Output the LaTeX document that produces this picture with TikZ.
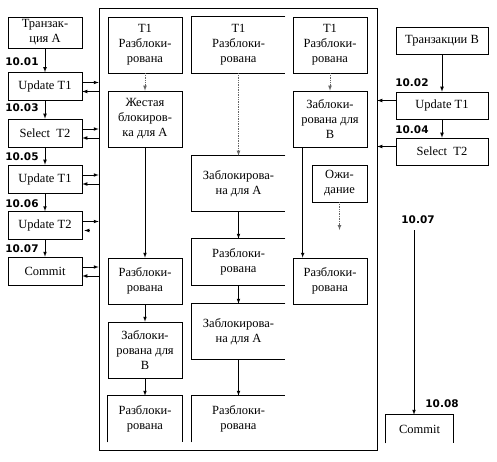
\documentclass[tikz,border=0pt]{standalone}
\usepackage{fontspec}
\setmainfont{Liberation Serif}
\newfontfamily\boxfont{Liberation Serif}
\newfontfamily\stampfont{DejaVu Sans}
\usetikzlibrary{positioning}

\tikzset{
  box/.style={draw, minimum width=74pt, minimum height=28pt, inner sep=1pt, align=center, font=\boxfont\fontsize{12.5}{15}\selectfont},
  bare/.style={box, draw=none},
  stamp/.style={inner sep=0pt, font=\stampfont\bfseries\fontsize{10.5}{11}\selectfont},
  flow/.style={->, >=latex},
  wait/.style={->, >=latex, densely dotted, black!60},
}

\begin{document}
\begin{tikzpicture}[x=1pt, y=-1pt, line width=0.7pt]
\useasboundingbox (0,0) rectangle (497,462);

% outer frame
\node[draw, minimum width=278pt, minimum height=442pt, inner sep=0pt] (frame) at (238,229) {};

% transaction A
\node[box, minimum height=31pt] (tA) at (45,32.5) {Транзак-\\ция A};
\node[box] (uA1) at (45,86.5) {Update T1};
\node[box] (sA2) at (45,133) {Select\ \ T2};
\node[box] (uA3) at (45,179) {Update T1};
\node[box] (uA4) at (45,225.5) {Update T2};
\node[box] (cA) at (45,271) {Commit};
\node[stamp, anchor=west] (s01) at (5,62) {10.01};
\node[stamp, anchor=west] (s03) at (5,108) {10.03};
\node[stamp, anchor=west] (s05) at (5,157) {10.05};
\node[stamp, anchor=west] (s06) at (5,204) {10.06};
\node[stamp, anchor=west] (s07a) at (5,249) {10.07};
\draw[flow] (tA) -- (uA1);
\draw[flow] (uA1) -- (sA2);
\draw[flow] (sA2) -- (uA3);
\draw[flow] (uA3) -- (uA4);
\draw[flow] (uA4) -- (cA);
\foreach \b in {uA1,sA2,uA3,uA4,cA}
  \draw[flow] ([yshift=4pt]\b.east) -- ([yshift=4pt]\b.east -| frame.west);
\foreach \b in {uA1,sA2,uA3,cA}
  \draw[flow] ([yshift=-5pt]\b.east -| frame.west) -- ([yshift=-5pt]\b.east);
\draw[flow] ([yshift=-5pt,xshift=7pt]uA4.east) -- ([yshift=-5pt,xshift=2pt]uA4.east);

% column 1
\node[box, minimum height=56pt] (c1a) at (145,45) {T1\\Разблоки-\\рована};
\node[box, minimum height=56pt] (c1b) at (145,119) {Жестая\\блокиров-\\ка для A};
\node[box, minimum height=46pt] (c1c) at (145,281) {Разблоки-\\рована};
\node[box, minimum height=56pt] (c1d) at (145,350) {Заблоки-\\рована для\\B};
\node[bare, minimum height=46pt] (c1e) at (145,419) {Разблоки-\\рована};
\draw (c1e.south west) -- (c1e.north west) -- (c1e.north east) -- (c1e.south east);
\draw[wait] (c1a) -- (c1b);
\draw[flow] (c1b) -- (c1c);
\draw[flow] (c1c) -- (c1d);
\draw[flow] (c1d) -- (c1e);

% column 2
\node[bare, minimum width=93pt, minimum height=56pt] (c2a) at (238.5,45) {T1\\Разблоки-\\рована};
\node[bare, minimum width=93pt, minimum height=55pt] (c2b) at (238.5,183.5) {Заблокирова-\\на для A};
\node[bare, minimum width=93pt, minimum height=46pt] (c2c) at (238.5,262) {Разблоки-\\рована};
\node[bare, minimum width=93pt, minimum height=55pt] (c2d) at (238.5,331.5) {Заблокирова-\\на для A};
\node[bare, minimum width=93pt, minimum height=46pt] (c2e) at (238.5,419) {Разблоки-\\рована};
\foreach \b in {c2a,c2b,c2c,c2d}
  \draw (\b.north east) -- (\b.north west) -- (\b.south west) -- (\b.south east);
\draw (c2e.south west) -- (c2e.north west) -- (c2e.north east);
\draw[wait] (c2a) -- (c2b);
\draw[flow] (c2b) -- (c2c);
\draw[flow] (c2c) -- (c2d);
\draw[flow] (c2d) -- (c2e);

% column 3
\node[box, minimum height=56pt] (c3a) at (330,45) {T1\\Разблоки-\\рована};
\node[box, minimum height=56pt] (c3b) at (330,119) {Заблоки-\\рована для\\B};
\node[box, minimum width=55pt, minimum height=37pt] (c3w) at (339.5,183.5) {Ожи-\\дание};
\node[box, minimum height=46pt] (c3c) at (330,281) {Разблоки-\\рована};
\coordinate (w3) at (339.5,230);
\draw[wait] (c3a) -- (c3b);
\draw[wait] (c3w) -- (w3);
\draw[flow] ([xshift=10pt]c3b.south west) -- ([xshift=10pt]c3c.north west);

% transaction B
\node[box, minimum width=92pt, minimum height=27pt] (tB) at (442,40.5) {Транзакции B};
\node[box, minimum width=92pt, minimum height=27pt] (uB1) at (442,105.5) {Update T1};
\node[box, minimum width=92pt, minimum height=27pt] (sB2) at (442,151.5) {Select\ \ T2};
\node[bare, minimum width=67pt, minimum height=28pt] (cB) at (419.5,429) {Commit};
\draw (cB.south west) -- (cB.north west) -- (cB.north east) -- (cB.south east);
\node[stamp, anchor=west] (s02) at (395,83) {10.02};
\node[stamp, anchor=west] (s04) at (395,130) {10.04};
\node[stamp] (s07b) at (418,220) {10.07};
\node[stamp] (s08) at (442,404) {10.08};
\coordinate (b7) at (414,230);
\draw[flow] (tB) -- (uB1);
\draw[flow] (uB1) -- (sB2);
\draw[flow] (b7) -- (b7 |- cB.north);
\foreach \b in {uB1,sB2}
  \draw[flow] ([yshift=5pt]\b.west) -- ([yshift=5pt]\b.west -| frame.east);
\end{tikzpicture}
\end{document}
